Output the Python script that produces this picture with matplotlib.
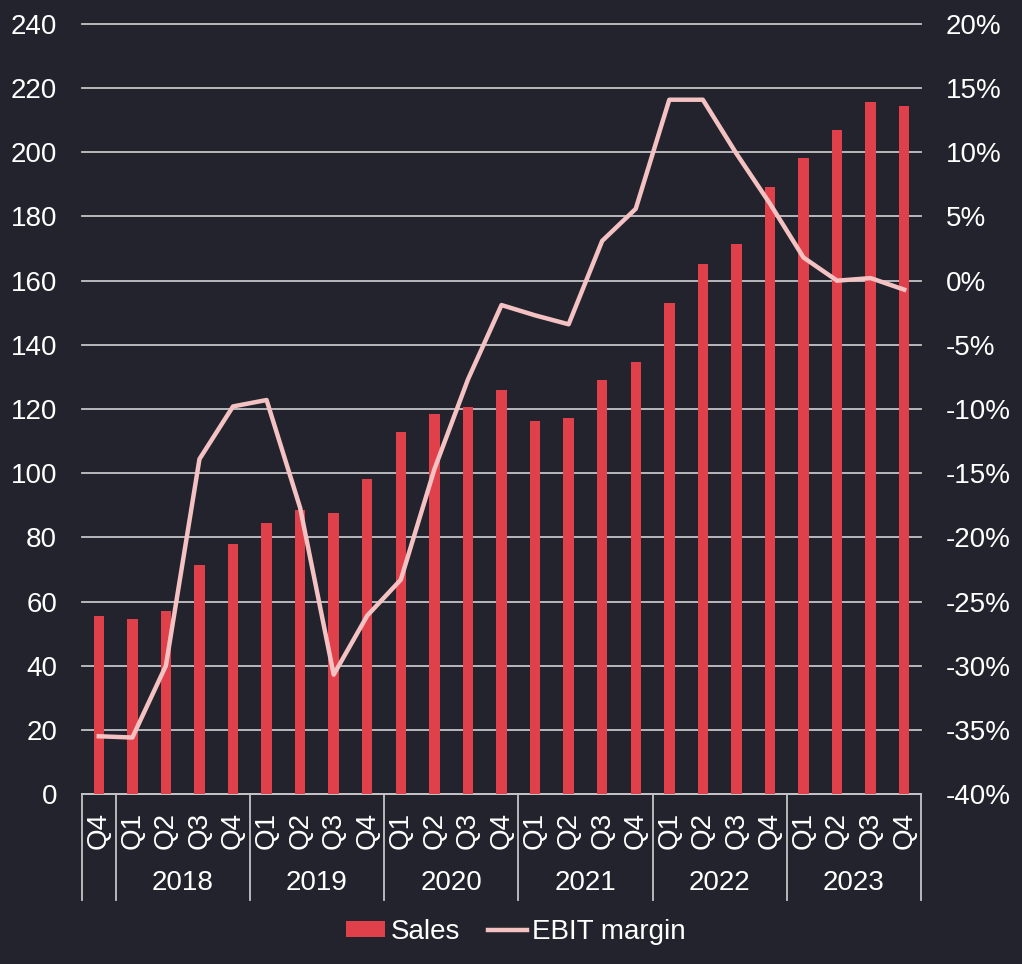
import numpy as np
import matplotlib
matplotlib.use("Agg")
import matplotlib.pyplot as plt
import matplotlib.transforms as mtransforms
from matplotlib.ticker import FuncFormatter

plt.rcParams['font.family'] = ['Liberation Sans', 'DejaVu Sans']

quarters = ['Q4',
            'Q1', 'Q2', 'Q3', 'Q4',
            'Q1', 'Q2', 'Q3', 'Q4',
            'Q1', 'Q2', 'Q3', 'Q4',
            'Q1', 'Q2', 'Q3', 'Q4',
            'Q1', 'Q2', 'Q3', 'Q4',
            'Q1', 'Q2', 'Q3', 'Q4']
years = ['2018', '2019', '2020', '2021', '2022', '2023']
sales = [55.5,
         54.4, 56.9, 71.3, 77.8,
         84.6, 88.5, 87.5, 98.3,
         112.8, 118.5, 120.7, 126.0,
         116.4, 117.3, 129.0, 134.7,
         153.0, 165.2, 171.4, 189.2,
         198.2, 206.9, 215.7, 214.4]
ebit_margin = [-35.5,
               -35.6, -30.0, -13.9, -9.8,
               -9.3, -17.7, -30.7, -26.1,
               -23.3, -14.7, -7.7, -1.9,
               -2.7, -3.4, 3.1, 5.6,
               14.1, 14.1, 9.9, 6.0,
               1.8, 0.0, 0.2, -0.7]

bg = '#23232d'
bar_color = '#e0404a'
line_color = '#f4c2c2'
grid_color = '#c4c4c8'
fs = 20

fig = plt.figure(figsize=(10.22, 9.64), dpi=100, facecolor=bg)
ax = fig.add_axes([82 / 1022, 1 - 794 / 964, (921 - 82) / 1022, (794 - 24) / 964])
ax.set_facecolor(bg)
ax2 = ax.twinx()

x = np.arange(len(sales))
ax.bar(x, sales, width=0.31, color=bar_color, zorder=3, label='Sales')
ax2.plot(x, ebit_margin, color=line_color, lw=3.2, zorder=4, label='EBIT margin')

ax.set_xlim(-0.5, len(sales) - 0.5)
ax.set_ylim(0, 240)
ax.set_yticks(np.arange(0, 241, 20))
ax2.set_ylim(-40, 20)
ax2.set_yticks(np.arange(-40, 21, 5))
ax2.yaxis.set_major_formatter(FuncFormatter(lambda v, p: f'{v:.0f}%'))

ax.grid(axis='y', color=grid_color, lw=1.3, zorder=0)
ax.set_axisbelow(True)
for gl in ax.get_ygridlines():
    gl.set_clip_on(False)

for a in (ax, ax2):
    for s in a.spines.values():
        s.set_visible(False)
ax.spines['bottom'].set_visible(True)
ax.spines['bottom'].set_color(grid_color)
ax.spines['bottom'].set_linewidth(1.3)

ax.tick_params(axis='y', length=0, pad=18, labelsize=fs, labelcolor='white')
ax2.tick_params(axis='y', length=0, pad=18, labelsize=fs, labelcolor='white')
ax.set_xticks(x)
ax.set_xticklabels(quarters, rotation=90)
ax.tick_params(axis='x', length=0, pad=13, labelsize=fs, labelcolor='white')

# group separators and year labels below the axis
trans = mtransforms.blended_transform_factory(ax.transData, ax.transAxes)
bounds = [-0.5, 0.5, 4.5, 8.5, 12.5, 16.5, 20.5, 24.5]
for b in bounds:
    ax.plot([b, b], [0, -0.138], transform=trans, color=grid_color, lw=1.3,
            clip_on=False)
for i, yr in enumerate(years):
    ax.text(2.5 + 4 * i, -0.116, yr, transform=trans, ha='center', va='center',
            fontsize=fs, color='white')

h1, l1 = ax.get_legend_handles_labels()
h2, l2 = ax2.get_legend_handles_labels()
leg = fig.legend(h1 + h2, l1 + l2, loc='center', bbox_to_anchor=(0.505, 1 - 932 / 964),
                 ncol=2, frameon=False, fontsize=fs, labelcolor='white',
                 handlelength=1.4, handletextpad=0.2, columnspacing=1.0,
                 handleheight=0.5)

fig.savefig('out.png', dpi=100, facecolor=bg)
